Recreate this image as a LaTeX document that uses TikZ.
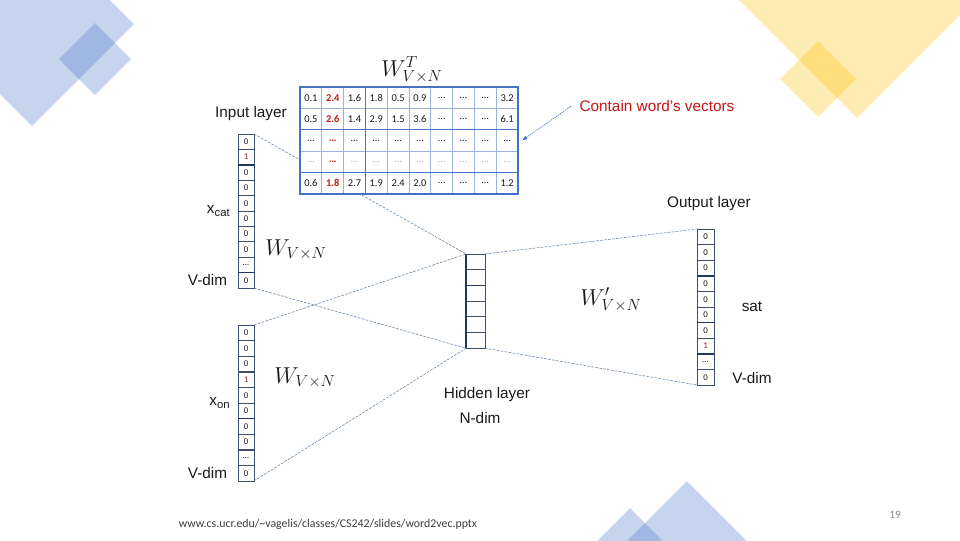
\documentclass[tikz,border=0pt]{standalone}
\usepackage{fontspec}
\setmainfont{Liberation Sans}
\newfontfamily\calibri{Carlito}
\usepackage{tikz}
\usetikzlibrary{arrows.meta,calc,positioning}
\definecolor{ink}{RGB}{25,25,25}
\definecolor{cellline}{RGB}{60,80,110}
\definecolor{sepline}{RGB}{31,56,100}
\definecolor{gridblue}{RGB}{68,114,196}
\definecolor{gridsoft}{RGB}{155,178,220}
\definecolor{wordred}{RGB}{200,20,20}
\definecolor{onered}{RGB}{160,30,30}
\definecolor{wirecol}{RGB}{105,135,170}
\definecolor{decoblue}{RGB}{68,114,196}
\definecolor{decogold}{RGB}{255,192,0}
\definecolor{footgray}{RGB}{60,60,60}
\definecolor{pagenum}{RGB}{135,135,135}
\newcommand{\HotBit}[1]{\textcolor{onered}{#1}}
\newcommand{\RedVal}[1]{\textcolor{wordred}{\bfseries #1}}
\newcommand{\Faded}[1]{\textcolor{black!28}{#1}}
\newcommand{\LabelFont}{\fontsize{11.5}{13}\selectfont}
\tikzset{
  vcell/.style={draw=cellline, line width=0.5pt, fill=white, inner sep=0pt, outer sep=0pt,
    minimum width=12pt, minimum height=11.6pt, font=\calibri\fontsize{6.6}{7}\selectfont, text=ink},
  hcell/.style={vcell, minimum width=14.2pt, minimum height=11.8pt},
  ocell/.style={vcell, minimum width=12.8pt, minimum height=11.7pt},
  mcell/.style={draw=gridsoft, line width=0.5pt, fill=white, inner sep=0pt, outer sep=0pt,
    minimum width=16.35pt, minimum height=16.05pt, font=\calibri\fontsize{7.8}{8}\selectfont, text=ink},
  thicksep/.style={draw=sepline, line width=1.1pt},
  gridsep/.style={draw=gridblue, line width=0.9pt},
  wire/.style={draw=wirecol, line width=0.45pt, dash pattern=on 2pt off 1pt},
  lbl/.style={font=\LabelFont, text=ink, inner sep=1pt},
  weight/.style={font=\fontsize{17}{19}\selectfont, text=ink},
  deco/.style={fill opacity=0.3}
}

\begin{document}
\begin{tikzpicture}[x=0.75pt, y=-0.75pt]
  \useasboundingbox (0,0) rectangle (960,540);
  % corner decorations
  \begin{scope}
    \clip (0,0) rectangle (960,540);
    \fill[decoblue, deco] (134,24) -- (32,126) -- (-70,24) -- (32,-78) -- cycle;
    \fill[decoblue, deco] (95,23) -- (131,59) -- (95,95) -- (59,59) -- cycle;
    \fill[decogold, deco] (857,118) -- (707,-32) -- (857,-182) -- (1007,-32) -- cycle;
    \fill[decogold, deco] (818,41) -- (856,79) -- (818,117) -- (780,79) -- cycle;
    \fill[decoblue, deco] (687,481) -- (746,540) -- (687,599) -- (628,540) -- cycle;
    \fill[decoblue, deco] (630,508) -- (662,540) -- (630,572) -- (598,540) -- cycle;
  \end{scope}

  % input, hidden and output vectors
  \foreach \v [count=\i] in {0,\HotBit{1},0,0,0,0,0,0,…,0}
    \node[vcell] (cat-\i) at (246,{134+15.4*(\i-0.5)}) {\v};
  \foreach \v [count=\i] in {0,0,0,\HotBit{1},0,0,0,0,…,0}
    \node[vcell] (on-\i) at (246,{325+15.6*(\i-0.5)}) {\v};
  \foreach \i in {1,...,6}
    \node[hcell] (hid-\i) at (475.5,{254+15.7*(\i-0.5)}) {};
  \foreach \v [count=\i] in {0,0,0,0,0,0,0,\HotBit{1},…,0}
    \node[ocell] (out-\i) at (705.5,{229+15.6*(\i-0.5)}) {\v};
  \draw[thicksep] (cat-2.south west) -- (cat-2.south east);
  \draw[thicksep] (cat-9.south west) -- (cat-9.south east);
  \draw[thicksep] (on-6.south west) -- (on-6.south east);
  \draw[thicksep] (hid-2.south west) -- (hid-2.south east);
  \draw[thicksep] (hid-1.north west) -- (hid-6.south west);
  \draw[thicksep] (out-3.south west) -- (out-3.south east);
  \draw[thicksep] (out-6.south west) -- (out-6.south east);
  \draw[thicksep] (out-8.south west) -- (out-8.south east);

  % projections
  \draw[wire] (cat-1.north east) -- (hid-1.north west);
  \draw[wire] (cat-10.south east) -- (hid-6.south west);
  \draw[wire] (on-1.north east) -- (hid-1.north west);
  \draw[wire] (on-10.south east) -- (hid-6.south west);
  \draw[wire] (hid-1.north east) -- (out-1.north west);
  \draw[wire] (hid-6.south east) -- (out-10.south west);

  % embedding matrix
  \foreach \row [count=\r] in {
    {0.1,\RedVal{2.4},1.6,1.8,0.5,0.9,…,…,…,3.2},
    {0.5,\RedVal{2.6},1.4,2.9,1.5,3.6,…,…,…,6.1},
    {…,\RedVal{…},…,…,…,…,…,…,…,…},
    {\Faded{…},\RedVal{…},\Faded{…},\Faded{…},\Faded{…},\Faded{…},\Faded{…},\Faded{…},\Faded{…},\Faded{…}},
    {0.6,\RedVal{1.8},2.7,1.9,2.4,2.0,…,…,…,1.2}}{
    \foreach \v [count=\c] in \row
      \node[mcell] (m-\r-\c) at ({300+21.8*(\c-0.5)},{87+21.4*(\r-0.5)}) {\v};
  }
  \draw[gridsep] (m-1-1.north west) rectangle (m-5-10.south east);
  \draw[gridsep] (m-1-3.north east) -- (m-5-3.south east);
  \draw[gridsep] (m-2-1.south west) -- (m-2-10.south east);
  \draw[gridsep] (m-4-1.south west) -- (m-4-10.south east);
  \node[weight, font=\fontsize{18}{20}\selectfont] (wt) at (412,70) {$W^{T}_{V\times N}$};

  % note
  \node[lbl, text=wordred] (note) at (657,106) {Contain word’s vectors};
  \draw[wire, draw=gridblue, dash pattern=on 1pt off 0.6pt, -{Latex[length=4pt, width=3pt]}]
    ([xshift=-5pt]note.west) -- ([xshift=3pt]m-3-10.east);

  % labels
  \node[lbl] (inlbl) at (251,114) {Input layer};
  \node[lbl, left=5pt of cat-5.south west] (xcat) {x\raisebox{-0.45ex}{\fontsize{8.5}{9}\selectfont cat}};
  \node[lbl, left=7pt of cat-10] (vcat) {V-dim};
  \node[lbl, left=5pt of on-5.south west] (xon) {x\raisebox{-0.45ex}{\fontsize{8.5}{9}\selectfont on}};
  \node[lbl, left=7pt of on-10] (von) {V-dim};
  \node[weight] (w1) at (296,250) {$W_{V\times N}$};
  \node[weight] (w2) at (305,378) {$W_{V\times N}$};
  \node[weight] (w3) at (611,300) {$W'_{V\times N}$};
  \node[lbl] (hidlbl) at (487,395) {Hidden layer};
  \node[lbl] (ndim) at (480,418) {N-dim};
  \node[lbl] (outlbl) at (709,204) {Output layer};
  \node[lbl] (sat) at (752,307) {sat};
  \node[lbl] (vout) at (752,378) {V-dim};

  % footer
  \node[font=\calibri\fontsize{8.9}{9}\selectfont, text=footgray] (src) at (328,524)
    {www.cs.ucr.edu/\textasciitilde vagelis/classes/CS242/slides/word2vec.pptx};
  \node[font=\calibri\fontsize{8.5}{9}\selectfont, text=pagenum] (pg) at (895,515) {19};
\end{tikzpicture}
\end{document}
